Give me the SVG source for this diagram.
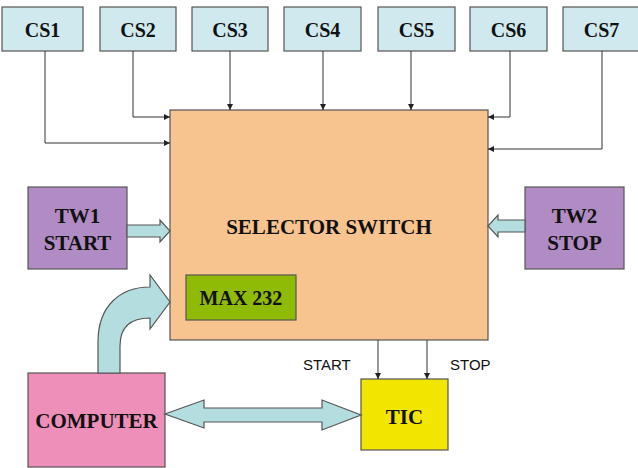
<svg xmlns="http://www.w3.org/2000/svg" width="638" height="468" viewBox="0 0 638 468">
  <defs>
    <marker id="tip" viewBox="0 0 10 10" refX="10" refY="5" markerWidth="6" markerHeight="6" markerUnits="userSpaceOnUse" orient="auto">
      <path d="M0,0 L10,5 L0,10 Z" fill="#222"/>
    </marker>
    <style>
      .box { stroke: #555; stroke-width: 1.2; }
      .cs { fill: #cfe9ef; }
      .lbl { font-family: "Liberation Serif", "Times New Roman", serif; font-weight: bold; fill: #111; text-anchor: middle; }
      .sig { font-family: "Liberation Sans", Arial, sans-serif; font-size: 15px; fill: #111; }
      .wire { fill: none; stroke: #333; stroke-width: 1; marker-end: url(#tip); }
      .block { fill: #b4dde0; stroke: #555; stroke-width: 1.2; stroke-linejoin: miter; }
    </style>
  </defs>
  <rect width="638" height="468" fill="#ffffff"/>

  <!-- channel selector inputs -->
  <g id="cs1"><rect class="box cs" x="2" y="7" width="81" height="44"/><text class="lbl" x="42.5" y="37" font-size="20">CS1</text></g>
  <g id="cs2"><rect class="box cs" x="100" y="7" width="76" height="44"/><text class="lbl" x="138" y="37" font-size="20">CS2</text></g>
  <g id="cs3"><rect class="box cs" x="192" y="7" width="76" height="44"/><text class="lbl" x="230" y="37" font-size="20">CS3</text></g>
  <g id="cs4"><rect class="box cs" x="284" y="7" width="77" height="44"/><text class="lbl" x="322.5" y="37" font-size="20">CS4</text></g>
  <g id="cs5"><rect class="box cs" x="378" y="7" width="77" height="44"/><text class="lbl" x="416.5" y="37" font-size="20">CS5</text></g>
  <g id="cs6"><rect class="box cs" x="470" y="7" width="77" height="44"/><text class="lbl" x="508.5" y="37" font-size="20">CS6</text></g>
  <g id="cs7"><rect class="box cs" x="563" y="7" width="77" height="44"/><text class="lbl" x="601.5" y="37" font-size="20">CS7</text></g>

  <!-- main selector switch -->
  <g id="selector">
    <rect class="box" x="170" y="110" width="318" height="230" fill="#f7c48f"/>
    <text class="lbl" x="329" y="234" font-size="21">SELECTOR SWITCH</text>
  </g>
  <g id="max232">
    <rect class="box" x="186" y="275" width="110" height="45" fill="#8fba06"/>
    <text class="lbl" x="241" y="305" font-size="20">MAX 232</text>
  </g>

  <g id="tw1">
    <rect class="box" x="28" y="187" width="99" height="82" fill="#b18cc4"/>
    <text class="lbl" x="77.5" y="223" font-size="21">TW1</text>
    <text class="lbl" x="77.5" y="250" font-size="21">START</text>
  </g>
  <g id="tw2">
    <rect class="box" x="525" y="187" width="99" height="82" fill="#b18cc4"/>
    <text class="lbl" x="574.5" y="223" font-size="21">TW2</text>
    <text class="lbl" x="574.5" y="250" font-size="21">STOP</text>
  </g>

  <g id="computer">
    <rect class="box" x="28" y="373" width="137" height="94" fill="#ee8fb9"/>
    <text class="lbl" x="96.5" y="428" font-size="21">COMPUTER</text>
  </g>
  <g id="tic">
    <rect class="box" x="361" y="379" width="87" height="71" fill="#f2e600"/>
    <text class="lbl" x="404.5" y="424" font-size="21">TIC</text>
  </g>

  <!-- connectors -->
  <g id="connectors">
    <path class="wire" d="M45,51 V143 H170"/>
    <path class="wire" d="M133,51 V117 H170"/>
    <path class="wire" d="M230,51 V110"/>
    <path class="wire" d="M323,51 V110"/>
    <path class="wire" d="M411,51 V110"/>
    <path class="wire" d="M510,51 V117 H488"/>
    <path class="wire" d="M602,51 V149 H488"/>
    <path class="wire" d="M378,340 V379"/>
    <path class="wire" d="M427,340 V379"/>

    <!-- block arrows -->
    <path class="block" d="M127,225 H160 V220 L170,231 L160,242 V237 H127 Z"/>
    <path class="block" d="M525,220 H498 V215 L488,226 L498,237 V232 H525 Z"/>
    <path class="block" d="M98,373 V342 C98,306 120,287 150,287 V275 L170,302 L150,329 V318 C132,318 120,326 120,346 V373 Z"/>
    <path class="block" d="M165,414 L204,400 V408 H322 V400 L361,415 L322,430 V422 H204 V428 Z"/>

    <text class="sig" x="303" y="370">START</text>
    <text class="sig" x="450" y="370">STOP</text>
  </g>
</svg>
